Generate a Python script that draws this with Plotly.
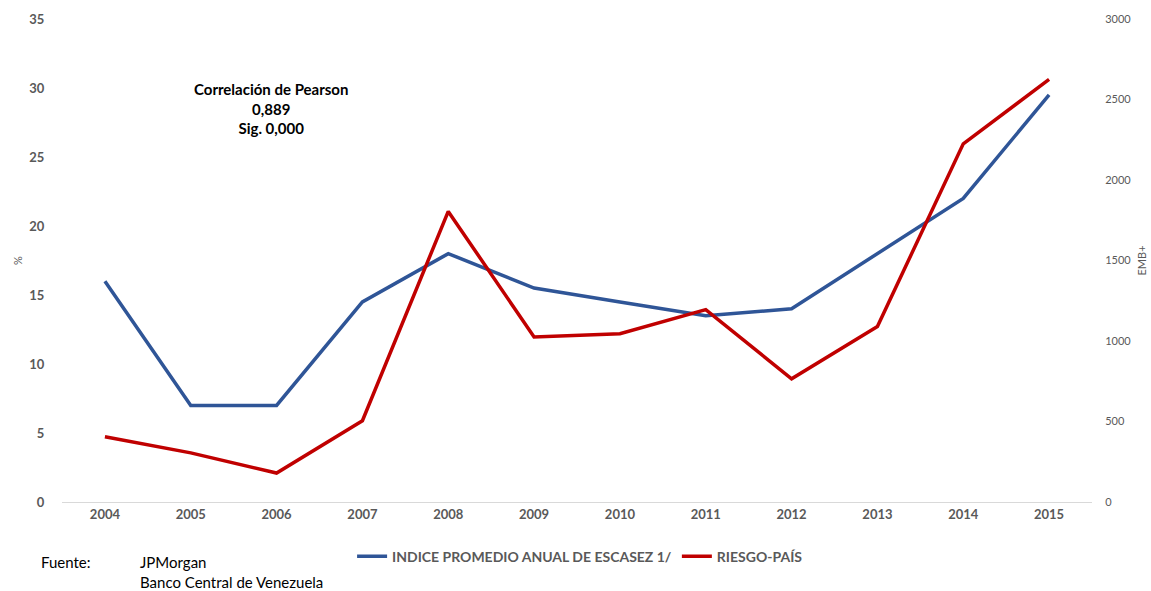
import plotly.graph_objects as go

# Años
years = ["2004", "2005", "2006", "2007", "2008", "2009",
         "2010", "2011", "2012", "2013", "2014", "2015"]

# Índice promedio anual de escasez (%)
escasez = [16, 7, 7, 14.5, 18, 15.5, 14.5, 13.5, 14, 18, 22, 29.5]

# Riesgo-país, EMBI+ (puntos básicos)
riesgo = [405, 305, 180, 505, 1805, 1025, 1045, 1195, 765, 1090, 2225, 2625]

FONT = "Lato"
GREY = "#595959"

fig = go.Figure()
fig.add_trace(go.Scatter(
    x=years, y=escasez, mode="lines",
    name="INDICE PROMEDIO ANUAL DE ESCASEZ 1/",
    line=dict(color="#2F5597", width=3.5),
))
fig.add_trace(go.Scatter(
    x=years, y=riesgo, mode="lines", yaxis="y2",
    name="RIESGO-PAÍS",
    line=dict(color="#C00000", width=3.5),
))

fig.update_layout(
    width=1151, height=591,
    margin=dict(l=62, r=59, t=19, b=89, autoexpand=False),
    paper_bgcolor="white", plot_bgcolor="white",
    font=dict(family=FONT, color=GREY),
    showlegend=True,
    legend=dict(
        orientation="h", x=0.503, xanchor="center", y=-0.08, yanchor="top",
        font=dict(family=FONT, size=14, color=GREY, weight="bold"),
        itemwidth=30, tracegroupgap=0,
        bgcolor="rgba(0,0,0,0)",
    ),
    xaxis=dict(
        type="category", range=[-0.5, 11.5], automargin=False,
        showgrid=False, zeroline=False,
        showline=True, linecolor="#D9D9D9", linewidth=1,
        ticks="", ticklen=0,
        tickfont=dict(family=FONT, size=13, color=GREY, weight="bold"),
    ),
    yaxis=dict(
        range=[0, 35], dtick=5, showgrid=False, zeroline=False,
        showline=False, ticks="outside", ticklen=14, tickcolor="white",
        automargin=False,
        tickfont=dict(family=FONT, size=13, color=GREY, weight="bold"),
        title=dict(text="%", font=dict(family=FONT, size=11, color=GREY),
                   standoff=4),
    ),
    yaxis2=dict(
        range=[0, 3000], dtick=500, overlaying="y", side="right",
        showgrid=False, zeroline=False, showline=False,
        ticks="outside", ticklen=10, tickcolor="white",
        automargin=False,
        tickfont=dict(family=FONT, size=11, color=GREY),
        title=dict(text="EMB+", font=dict(family=FONT, size=11, color=GREY),
                   standoff=7),
    ),
)

fig.add_annotation(
    xref="paper", yref="paper", x=0.203, y=0.878, xanchor="center", yanchor="top",
    text="Correlación de Pearson<br>0,889<br>Sig. 0,000",
    showarrow=False, align="center",
    font=dict(family=FONT, size=15, color="black", weight="bold"),
)

fig.add_annotation(
    xref="paper", yref="paper", x=-0.0225, y=-0.102, xanchor="left", yanchor="top",
    text="Fuente:", showarrow=False, align="left",
    font=dict(family=FONT, size=15, color="black"),
)
fig.add_annotation(
    xref="paper", yref="paper", x=0.074, y=-0.102, xanchor="left", yanchor="top",
    text="JPMorgan<br>Banco Central de Venezuela", showarrow=False, align="left",
    font=dict(family=FONT, size=15, color="black"),
)

fig.write_html("out.html")
